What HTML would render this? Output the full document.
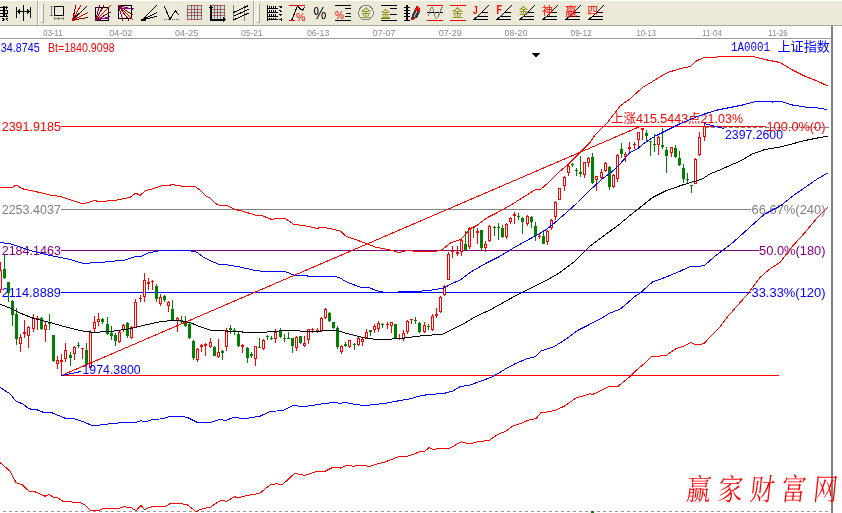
<!DOCTYPE html>
<html lang="zh"><head><meta charset="utf-8"><title>上证指数</title>
<style>
html,body{margin:0;padding:0;background:#fff;}
body{width:842px;height:513px;overflow:hidden;position:relative;font-family:"Liberation Sans","Noto Sans CJK SC",sans-serif;}
#tb{position:absolute;left:0;top:0;width:842px;height:25px;background:#ece9d8;border-top:1px solid #fff;box-sizing:border-box;}
#tbl{position:absolute;left:0;top:25px;width:842px;height:1px;background:#aca899;}
svg{position:absolute;left:0;top:0;}
.c{shape-rendering:crispEdges;}
text{font-family:"Liberation Sans","Noto Sans CJK SC",sans-serif;}
.d{font-size:9px;fill:#8a8a8a;}
.s{font-family:"Liberation Serif","Noto Serif CJK SC",serif;}
.m{font-family:"Liberation Mono",monospace;}
</style></head><body>
<div id="tb"></div><div id="tbl"></div>
<svg width="842" height="513" viewBox="0 0 842 513">
<g class="c"><rect x="37" y="1" width="1" height="24" fill="#aca899"/><rect x="38" y="1" width="1" height="24" fill="#fff"/><rect x="41" y="3" width="1" height="19" fill="#fff"/><rect x="42" y="3" width="1" height="19" fill="#ece9d8"/><rect x="43" y="4" width="1" height="19" fill="#aca899"/><rect x="41" y="22" width="3" height="1" fill="#aca899"/><rect x="253" y="1" width="1" height="24" fill="#aca899"/><rect x="254" y="1" width="1" height="24" fill="#fff"/><rect x="257" y="3" width="1" height="19" fill="#fff"/><rect x="258" y="3" width="1" height="19" fill="#ece9d8"/><rect x="259" y="4" width="1" height="19" fill="#aca899"/><rect x="257" y="22" width="3" height="1" fill="#aca899"/></g>
<g class="c"><g transform="translate(-8 5)"><rect x="8" y="2" width="8" height="1" fill="#000"/><rect x="8" y="5" width="8" height="1" fill="#000"/><rect x="8" y="8" width="8" height="1" fill="#000"/><rect x="8" y="11" width="8" height="1" fill="#000"/><rect x="11" y="1" width="1" height="11" fill="#000"/><rect x="12" y="1" width="1" height="11" fill="#000"/><rect x="14" y="1" width="1" height="3" fill="#000"/><rect x="15" y="6" width="1" height="2" fill="#000"/><rect x="14" y="9" width="1" height="2" fill="#000"/><rect x="10" y="13" width="2" height="1" fill="#000"/><rect x="11" y="14" width="2" height="1" fill="#000"/><rect x="10" y="15" width="2" height="1" fill="#000"/><rect x="14" y="13" width="2" height="1" fill="#000"/><rect x="14" y="14" width="1" height="1" fill="#000"/><rect x="15" y="15" width="1" height="1" fill="#000"/></g>
<g transform="translate(16 5)"><rect x="0" y="2" width="1" height="11" fill="#000"/><rect x="7" y="0" width="1" height="16" fill="#000"/><rect x="14" y="2" width="1" height="11" fill="#000"/><rect x="1" y="6" width="13" height="1" fill="#000"/><rect x="2" y="5" width="2" height="1" fill="#000"/><rect x="2" y="7" width="2" height="1" fill="#000"/><rect x="3" y="4" width="1" height="1" fill="#000"/><rect x="3" y="8" width="1" height="1" fill="#000"/><rect x="11" y="5" width="2" height="1" fill="#000"/><rect x="11" y="7" width="2" height="1" fill="#000"/><rect x="11" y="4" width="1" height="1" fill="#000"/><rect x="11" y="8" width="1" height="1" fill="#000"/></g>
<g transform="translate(49 5)"><rect x="5.5" y="1.5" width="9" height="9" fill="none" stroke="#000" stroke-width="1"/><rect x="2" y="1" width="1" height="10" fill="#808080"/><rect x="1" y="1" width="3" height="1" fill="#808080"/><rect x="1" y="10" width="3" height="1" fill="#808080"/><rect x="5" y="13" width="10" height="1" fill="#808080"/><rect x="5" y="12" width="1" height="3" fill="#808080"/><rect x="14" y="12" width="1" height="3" fill="#808080"/><rect x="9" y="12" width="1" height="3" fill="#808080"/></g>
<g transform="translate(72 5)"><line x1="0.5" y1="15" x2="4" y2="0" stroke="#800000" stroke-width="1"/><line x1="0.5" y1="15" x2="9" y2="0" stroke="#f00" stroke-width="1"/><line x1="0.5" y1="15" x2="15.5" y2="0.5" stroke="#000" stroke-width="1"/><line x1="0.5" y1="15" x2="16" y2="7.5" stroke="#f00" stroke-width="1"/><line x1="0.5" y1="15" x2="16" y2="12.5" stroke="#800000" stroke-width="1"/><rect x="0" y="13" width="3" height="3" fill="#c00000"/></g>
<g transform="translate(95 5)"><rect x="0.5" y="2.5" width="13" height="13" fill="none" stroke="#000" stroke-width="1"/><line x1="0.5" y1="15.5" x2="4.5" y2="0" stroke="#800080" stroke-width="1"/><line x1="0.5" y1="15.5" x2="9" y2="0" stroke="#800000" stroke-width="1"/><line x1="0.5" y1="15.5" x2="15.5" y2="0.5" stroke="#f00" stroke-width="1"/><line x1="0.5" y1="15.5" x2="15.5" y2="7" stroke="#800000" stroke-width="1"/><line x1="0.5" y1="15.5" x2="15.5" y2="11.5" stroke="#800080" stroke-width="1"/><line x1="4" y1="13" x2="14" y2="13" stroke="#800080" stroke-width="1"/></g>
<g transform="translate(118 5)"><rect x="0.5" y="0.5" width="13" height="13" fill="none" stroke="#000" stroke-width="1"/><line x1="0.5" y1="0.5" x2="5" y2="15.5" stroke="#800080" stroke-width="1"/><line x1="0.5" y1="0.5" x2="11" y2="15.5" stroke="#800000" stroke-width="1"/><line x1="0.5" y1="0.5" x2="15.5" y2="15.5" stroke="#f00" stroke-width="1"/><line x1="0.5" y1="0.5" x2="15.5" y2="10.5" stroke="#800000" stroke-width="1"/><line x1="0.5" y1="0.5" x2="15.5" y2="4.5" stroke="#800080" stroke-width="1"/><line x1="4" y1="3.5" x2="15.5" y2="3.5" stroke="#800080" stroke-width="1"/></g>
<g transform="translate(141 5)"><line x1="0.5" y1="15.2" x2="15.7" y2="0.6" stroke="#000" stroke-width="1"/><line x1="0.5" y1="15.2" x2="15.7" y2="7.5" stroke="#000" stroke-width="1"/><line x1="0.5" y1="15.2" x2="15.7" y2="11.2" stroke="#000" stroke-width="1"/><polygon points="0,15.5 5,12 5,15.5" fill="#000"/></g>
<g transform="translate(164 5)"><polyline fill="none" stroke="#000" stroke-width="1" points="0.3,1 5.8,14.3 11.4,5.6 14.8,10"/><line x1="0" y1="14.5" x2="16" y2="14.5" stroke="#555" stroke-width="1" stroke-dasharray="1 1"/></g>
<g transform="translate(187 5)"><rect x="0" y="0" width="15" height="15" fill="#dcdcdc"/><rect x="0" y="0" width="1" height="15" fill="#808080"/><rect x="0" y="0" width="15" height="1" fill="#808080"/><rect x="4" y="0" width="1" height="15" fill="#808080"/><rect x="0" y="4" width="15" height="1" fill="#808080"/><rect x="7" y="0" width="1" height="15" fill="#808080"/><rect x="0" y="7" width="15" height="1" fill="#808080"/><rect x="10" y="0" width="1" height="15" fill="#808080"/><rect x="0" y="10" width="15" height="1" fill="#808080"/><rect x="14" y="0" width="1" height="15" fill="#808080"/><rect x="0" y="14" width="15" height="1" fill="#808080"/><rect x="4" y="0" width="1" height="1" fill="#f00"/><rect x="7" y="0" width="1" height="1" fill="#f00"/><rect x="10" y="0" width="1" height="1" fill="#f00"/><rect x="14" y="0" width="1" height="1" fill="#f00"/><rect x="0" y="4" width="1" height="1" fill="#f00"/><rect x="7" y="4" width="1" height="1" fill="#f00"/><rect x="14" y="4" width="1" height="1" fill="#f00"/><rect x="4" y="7" width="1" height="1" fill="#f00"/><rect x="10" y="7" width="1" height="1" fill="#f00"/><rect x="0" y="7" width="1" height="1" fill="#f00"/><rect x="14" y="7" width="1" height="1" fill="#f00"/><rect x="0" y="10" width="1" height="1" fill="#f00"/><rect x="7" y="10" width="1" height="1" fill="#f00"/><rect x="14" y="10" width="1" height="1" fill="#f00"/><rect x="4" y="14" width="1" height="1" fill="#f00"/><rect x="7" y="14" width="1" height="1" fill="#f00"/><rect x="10" y="14" width="1" height="1" fill="#f00"/><rect x="0" y="14" width="1" height="1" fill="#f00"/><rect x="7" y="7" width="1" height="1" fill="#f00"/><rect x="4" y="4" width="1" height="1" fill="#f00"/><rect x="10" y="10" width="1" height="1" fill="#f00"/><rect x="4" y="10" width="1" height="1" fill="#f00"/><rect x="10" y="4" width="1" height="1" fill="#f00"/></g>
<g transform="translate(210 5)"><rect x="0" y="0" width="15" height="15" fill="#dcdcdc"/><rect x="0" y="0" width="1" height="15" fill="#808080"/><rect x="0" y="0" width="15" height="1" fill="#808080"/><rect x="4" y="0" width="1" height="15" fill="#808080"/><rect x="0" y="4" width="15" height="1" fill="#808080"/><rect x="7" y="0" width="1" height="15" fill="#808080"/><rect x="0" y="7" width="15" height="1" fill="#808080"/><rect x="10" y="0" width="1" height="15" fill="#808080"/><rect x="0" y="10" width="15" height="1" fill="#808080"/><rect x="14" y="0" width="1" height="15" fill="#808080"/><rect x="0" y="14" width="15" height="1" fill="#808080"/><rect x="4" y="0" width="1" height="1" fill="#f00"/><rect x="7" y="0" width="1" height="1" fill="#f00"/><rect x="10" y="0" width="1" height="1" fill="#f00"/><rect x="14" y="0" width="1" height="1" fill="#f00"/><rect x="0" y="4" width="1" height="1" fill="#f00"/><rect x="7" y="4" width="1" height="1" fill="#f00"/><rect x="14" y="4" width="1" height="1" fill="#f00"/><rect x="4" y="7" width="1" height="1" fill="#f00"/><rect x="10" y="7" width="1" height="1" fill="#f00"/><rect x="0" y="7" width="1" height="1" fill="#f00"/><rect x="14" y="7" width="1" height="1" fill="#f00"/><rect x="0" y="10" width="1" height="1" fill="#f00"/><rect x="7" y="10" width="1" height="1" fill="#f00"/><rect x="14" y="10" width="1" height="1" fill="#f00"/><rect x="4" y="14" width="1" height="1" fill="#f00"/><rect x="7" y="14" width="1" height="1" fill="#f00"/><rect x="10" y="14" width="1" height="1" fill="#f00"/><rect x="0" y="14" width="1" height="1" fill="#f00"/><rect x="7" y="7" width="1" height="1" fill="#f00"/><rect x="4" y="4" width="1" height="1" fill="#f00"/><rect x="10" y="10" width="1" height="1" fill="#f00"/><rect x="4" y="10" width="1" height="1" fill="#f00"/><rect x="10" y="4" width="1" height="1" fill="#f00"/><rect x="0" y="0" width="1" height="16" fill="#000"/><rect x="1" y="1" width="1" height="15" fill="#000"/><rect x="0" y="14" width="15" height="1" fill="#000"/><rect x="0" y="15" width="15" height="1" fill="#000"/><polygon points="-1,3 0.5,-0.5 3,3" fill="#000"/><polygon points="13,12 16.5,14.5 13,17" fill="#000"/></g>
<g transform="translate(233 5)"><rect x="0" y="0" width="1" height="16" fill="#808080"/><rect x="11" y="0" width="1" height="16" fill="#808080"/><line x1="0.5" y1="7.5" x2="15.5" y2="0.6" stroke="#000" stroke-width="1"/><line x1="0.5" y1="11.2" x2="15.5" y2="4.4" stroke="#000" stroke-width="1"/><line x1="0.5" y1="14.9" x2="15.5" y2="8.1" stroke="#000" stroke-width="1"/></g>
<g transform="translate(266 5)"><rect x="1" y="0" width="1" height="16" fill="#000"/><rect x="1" y="3" width="11" height="1" fill="#000"/><rect x="1" y="7" width="11" height="1" fill="#000"/><rect x="1" y="11" width="11" height="1" fill="#000"/><rect x="1" y="14" width="11" height="1" fill="#000"/><rect x="3" y="1" width="1" height="2" fill="#000"/><rect x="3" y="5" width="1" height="2" fill="#000"/><rect x="3" y="9" width="1" height="2" fill="#000"/><rect x="3" y="13" width="1" height="1" fill="#000"/><rect x="5" y="1" width="1" height="2" fill="#000"/><rect x="5" y="5" width="1" height="2" fill="#000"/><rect x="5" y="9" width="1" height="2" fill="#000"/><rect x="5" y="13" width="1" height="1" fill="#000"/><rect x="7" y="1" width="1" height="2" fill="#000"/><rect x="7" y="5" width="1" height="2" fill="#000"/><rect x="7" y="9" width="1" height="2" fill="#000"/><rect x="7" y="13" width="1" height="1" fill="#000"/><rect x="9" y="1" width="1" height="2" fill="#000"/><rect x="9" y="5" width="1" height="2" fill="#000"/><rect x="9" y="9" width="1" height="2" fill="#000"/><rect x="9" y="13" width="1" height="1" fill="#000"/><rect x="13" y="1" width="3" height="1" fill="#000"/><rect x="14" y="2" width="2" height="1" fill="#000"/><rect x="13" y="5" width="2" height="1" fill="#000"/><rect x="14" y="6" width="2" height="1" fill="#000"/><rect x="13" y="9" width="3" height="1" fill="#000"/><rect x="14" y="10" width="1" height="1" fill="#000"/><rect x="13" y="14" width="3" height="1" fill="#000"/><rect x="15" y="13" width="1" height="3" fill="#000"/></g>
<g transform="translate(289 5)"><rect x="0" y="0" width="16" height="1" fill="#f00"/><rect x="0" y="15" width="6" height="1" fill="#f00"/><polyline fill="none" stroke="#000" stroke-width="1" points="2.8,15 8.4,1 13.4,5.6 15.6,1.9"/><text x="7" y="15.5" font-size="11.5" fill="#f00" textLength="9.5" lengthAdjust="spacingAndGlyphs">%</text></g>
<g transform="translate(312 5)"><text x="1.5" y="14.3" font-size="17" fill="#000" textLength="13" lengthAdjust="spacingAndGlyphs">%</text></g>
<g transform="translate(335 5)"><rect x="0" y="0" width="16" height="1" fill="#000"/><rect x="0" y="15" width="16" height="1" fill="#000"/><rect x="10" y="3" width="6" height="1" fill="#000"/><rect x="11" y="8" width="5" height="1" fill="#000"/><rect x="10" y="11" width="6" height="1" fill="#000"/><text x="0" y="13.7" font-size="10.5" fill="#f00" textLength="9" lengthAdjust="spacingAndGlyphs">%</text></g>
<g transform="translate(358 5)"><circle cx="8" cy="7.7" r="7.4" fill="#f0eee0" stroke="#808080" stroke-width="1"/><text x="2.5" y="12" font-size="11" fill="#808000">金</text></g>
<g transform="translate(381 5)"><rect x="0" y="0" width="16" height="1" fill="#000"/><rect x="0" y="15" width="16" height="1" fill="#000"/><rect x="9" y="3" width="7" height="1" fill="#000"/><rect x="9" y="9" width="7" height="1" fill="#000"/><rect x="0" y="13" width="9" height="1" fill="#808000"/><text x="0" y="12" font-size="9.5" fill="#808000">金</text></g>
<g transform="translate(404 5)"><rect x="2" y="0" width="1" height="16" fill="#000"/><rect x="3" y="0" width="1" height="16" fill="#000"/><rect x="0" y="2" width="6" height="1" fill="#000"/><rect x="0" y="5" width="6" height="1" fill="#000"/><rect x="0" y="8" width="6" height="1" fill="#000"/><rect x="0" y="11" width="6" height="1" fill="#000"/><rect x="0" y="15" width="6" height="1" fill="#000"/><polygon points="6.7,15.3 8.3,9 11.3,3.5 16,6.8 13.3,12 9.2,14.8" fill="#3a3a3a"/><polygon points="10.8,4.2 12.3,0.8 15.6,2.6 16.2,7.6 13.5,6.2" fill="#f00"/><polygon points="6.5,15.6 7.4,12.2 10,14.6" fill="#f00"/><line x1="10" y1="11.5" x2="13" y2="6.5" stroke="#c8c8c8" stroke-width="1"/></g>
<g transform="translate(427 5)"><rect x="0" y="0" width="16" height="1" fill="#f00"/><rect x="0" y="15" width="16" height="1" fill="#f00"/><rect x="0" y="7" width="16" height="1" fill="#000"/><path d="M0.9,11.5 C2.5,9 3.2,2.5 4.9,2.5 C7,2.5 7.5,13.5 9.5,13.5 C11.5,13.5 13,5 15.3,2.2" fill="none" stroke="#808080" stroke-width="1"/></g>
<g transform="translate(450 5)"><rect x="0" y="0" width="16" height="1" fill="#f00"/><rect x="0" y="15" width="16" height="1" fill="#f00"/><text x="1.8" y="12.3" font-size="11.5" fill="#808000">金</text></g>
<g transform="translate(473 5)"><line x1="0.4" y1="15.2" x2="15.6" y2="0.6" stroke="#000" stroke-width="1"/><rect x="9" y="7" width="6" height="1" fill="#000"/><rect x="5" y="11" width="10" height="1" fill="#000"/><rect x="1" y="14" width="14" height="1" fill="#000"/><text x="0" y="8.7" font-size="11.5" font-weight="bold" fill="#f00" textLength="4.6" lengthAdjust="spacingAndGlyphs">J</text></g>
<g transform="translate(496 5)"><line x1="0.4" y1="15.2" x2="15.6" y2="0.6" stroke="#000" stroke-width="1"/><rect x="9" y="7" width="6" height="1" fill="#000"/><rect x="5" y="11" width="10" height="1" fill="#000"/><rect x="1" y="14" width="14" height="1" fill="#000"/><text x="0.6" y="9.3" font-size="12" font-weight="bold" fill="#f00" textLength="5.4" lengthAdjust="spacingAndGlyphs">F</text></g>
<g transform="translate(519 5)"><line x1="0.4" y1="15.2" x2="15.6" y2="0.6" stroke="#000" stroke-width="1"/><rect x="9" y="7" width="6" height="1" fill="#000"/><rect x="5" y="11" width="10" height="1" fill="#000"/><rect x="1" y="14" width="14" height="1" fill="#000"/><text x="0" y="9" font-size="9" fill="#808000">金</text></g>
<g transform="translate(542 5)"><line x1="0.4" y1="15.2" x2="15.6" y2="0.6" stroke="#000" stroke-width="1"/><rect x="9" y="7" width="6" height="1" fill="#000"/><rect x="5" y="11" width="10" height="1" fill="#000"/><rect x="1" y="14" width="14" height="1" fill="#000"/><text x="0" y="9.6" font-size="11" fill="#f00">神</text></g>
<g transform="translate(565 5)"><line x1="0.4" y1="15.2" x2="15.6" y2="0.6" stroke="#000" stroke-width="1"/><rect x="9" y="7" width="6" height="1" fill="#000"/><rect x="5" y="11" width="10" height="1" fill="#000"/><rect x="1" y="14" width="14" height="1" fill="#000"/><text x="0" y="10.6" font-size="12" fill="#f00">赢</text></g>
<g transform="translate(588 5)"><line x1="0.4" y1="15.2" x2="15.6" y2="0.6" stroke="#000" stroke-width="1"/><rect x="9" y="7" width="6" height="1" fill="#000"/><rect x="5" y="11" width="10" height="1" fill="#000"/><rect x="1" y="14" width="14" height="1" fill="#000"/><text x="-0.5" y="9.3" font-size="10.5" fill="#f00">四</text></g>
</g>
<g class="c"><rect x="0" y="38" width="832" height="1" fill="#9a9a9a"/><rect x="831" y="26" width="2" height="487" fill="#808080"/></g>
<text class="d" x="43.3" y="36" textLength="19.4" lengthAdjust="spacingAndGlyphs">03-11</text><text class="d" x="109.2" y="36" textLength="23.1" lengthAdjust="spacingAndGlyphs">04-02</text><text class="d" x="175.1" y="36" textLength="23.1" lengthAdjust="spacingAndGlyphs">04-25</text><text class="d" x="241.0" y="36" textLength="21.8" lengthAdjust="spacingAndGlyphs">05-21</text><text class="d" x="306.9" y="36" textLength="22.5" lengthAdjust="spacingAndGlyphs">06-13</text><text class="d" x="372.8" y="36" textLength="22.5" lengthAdjust="spacingAndGlyphs">07-07</text><text class="d" x="438.7" y="36" textLength="23.1" lengthAdjust="spacingAndGlyphs">07-29</text><text class="d" x="504.6" y="36" textLength="23.0" lengthAdjust="spacingAndGlyphs">08-20</text><text class="d" x="570.5" y="36" textLength="21.3" lengthAdjust="spacingAndGlyphs">09-12</text><text class="d" x="636.4" y="36" textLength="19.5" lengthAdjust="spacingAndGlyphs">10-13</text><text class="d" x="702.3" y="36" textLength="19.5" lengthAdjust="spacingAndGlyphs">11-04</text><text class="d" x="768.2" y="36" textLength="19.4" lengthAdjust="spacingAndGlyphs">11-26</text>
<g class="c"><rect x="61" y="126" width="705" height="1" fill="#f00"/><rect x="61" y="209" width="690" height="1" fill="#808080"/><rect x="61" y="250" width="698" height="1" fill="#800080"/><rect x="61" y="292" width="690" height="1" fill="#00f"/><rect x="61" y="375" width="718" height="1" fill="#f00"/></g>
<line x1="705" y1="127.5" x2="830" y2="127.5" stroke="#808080" stroke-width="1" stroke-dasharray="4 2" class="c"/>
<line x1="3" y1="511.5" x2="829" y2="511.5" stroke="#999" stroke-width="1" stroke-dasharray="3 3" class="c"/>
<rect x="591" y="511" width="3" height="2" fill="#008000" class="c"/>
<g class="c"><rect x="0" y="262" width="1" height="31" fill="#f00"/><rect x="-1" y="270" width="3" height="20" fill="#f00"/><rect x="0" y="271" width="1" height="18" fill="#fff"/><rect x="4" y="254" width="1" height="25" fill="#008000"/><rect x="3" y="269" width="3" height="9" fill="#008000"/><rect x="8" y="282" width="1" height="20" fill="#008000"/><rect x="7" y="282" width="3" height="11" fill="#008000"/><rect x="12" y="300" width="1" height="26" fill="#008000"/><rect x="11" y="301" width="3" height="14" fill="#008000"/><rect x="16" y="308" width="1" height="37" fill="#008000"/><rect x="15" y="314" width="3" height="25" fill="#008000"/><rect x="20" y="334" width="1" height="18" fill="#f00"/><rect x="19" y="337" width="3" height="7" fill="#f00"/><rect x="20" y="338" width="1" height="5" fill="#fff"/><rect x="24" y="320" width="1" height="18" fill="#f00"/><rect x="23" y="332" width="3" height="2" fill="#f00"/><rect x="28" y="326" width="1" height="22" fill="#f00"/><rect x="27" y="327" width="3" height="9" fill="#f00"/><rect x="28" y="328" width="1" height="7" fill="#fff"/><rect x="33" y="314" width="1" height="18" fill="#f00"/><rect x="32" y="318" width="3" height="11" fill="#f00"/><rect x="33" y="319" width="1" height="9" fill="#fff"/><rect x="37" y="316" width="1" height="14" fill="#f00"/><rect x="36" y="318" width="3" height="1" fill="#f00"/><rect x="41" y="317" width="1" height="13" fill="#008000"/><rect x="40" y="318" width="3" height="11" fill="#008000"/><rect x="45" y="322" width="1" height="20" fill="#f00"/><rect x="44" y="325" width="3" height="5" fill="#f00"/><rect x="45" y="326" width="1" height="3" fill="#fff"/><rect x="49" y="314" width="1" height="16" fill="#008000"/><rect x="48" y="322" width="3" height="2" fill="#008000"/><rect x="53" y="335" width="1" height="27" fill="#008000"/><rect x="52" y="335" width="3" height="26" fill="#008000"/><rect x="57" y="356" width="1" height="13" fill="#f00"/><rect x="56" y="360" width="3" height="4" fill="#f00"/><rect x="57" y="361" width="1" height="2" fill="#fff"/><rect x="61" y="354" width="1" height="22" fill="#f00"/><rect x="60" y="360" width="3" height="2" fill="#f00"/><rect x="65" y="343" width="1" height="19" fill="#f00"/><rect x="64" y="350" width="3" height="9" fill="#f00"/><rect x="65" y="351" width="1" height="7" fill="#fff"/><rect x="70" y="352" width="1" height="14" fill="#008000"/><rect x="69" y="355" width="3" height="3" fill="#008000"/><rect x="74" y="346" width="1" height="14" fill="#f00"/><rect x="73" y="347" width="3" height="7" fill="#f00"/><rect x="74" y="348" width="1" height="5" fill="#fff"/><rect x="78" y="342" width="1" height="6" fill="#008000"/><rect x="77" y="345" width="3" height="1" fill="#008000"/><rect x="82" y="348" width="1" height="11" fill="#f00"/><rect x="81" y="348" width="3" height="1" fill="#f00"/><rect x="86" y="343" width="1" height="23" fill="#008000"/><rect x="85" y="350" width="3" height="15" fill="#008000"/><rect x="90" y="330" width="1" height="39" fill="#f00"/><rect x="89" y="332" width="3" height="36" fill="#f00"/><rect x="90" y="333" width="1" height="34" fill="#fff"/><rect x="94" y="316" width="1" height="17" fill="#f00"/><rect x="93" y="322" width="3" height="7" fill="#f00"/><rect x="94" y="323" width="1" height="5" fill="#fff"/><rect x="98" y="313" width="1" height="13" fill="#f00"/><rect x="97" y="319" width="3" height="3" fill="#f00"/><rect x="98" y="320" width="1" height="1" fill="#fff"/><rect x="102" y="318" width="1" height="6" fill="#008000"/><rect x="101" y="319" width="3" height="3" fill="#008000"/><rect x="107" y="317" width="1" height="18" fill="#008000"/><rect x="106" y="324" width="3" height="10" fill="#008000"/><rect x="111" y="326" width="1" height="14" fill="#008000"/><rect x="110" y="333" width="3" height="3" fill="#008000"/><rect x="115" y="333" width="1" height="13" fill="#008000"/><rect x="114" y="335" width="3" height="6" fill="#008000"/><rect x="119" y="331" width="1" height="12" fill="#f00"/><rect x="118" y="332" width="3" height="10" fill="#f00"/><rect x="119" y="333" width="1" height="8" fill="#fff"/><rect x="123" y="324" width="1" height="8" fill="#f00"/><rect x="122" y="325" width="3" height="5" fill="#f00"/><rect x="123" y="326" width="1" height="3" fill="#fff"/><rect x="127" y="322" width="1" height="16" fill="#008000"/><rect x="126" y="323" width="3" height="13" fill="#008000"/><rect x="131" y="326" width="1" height="13" fill="#f00"/><rect x="130" y="327" width="3" height="11" fill="#f00"/><rect x="131" y="328" width="1" height="9" fill="#fff"/><rect x="135" y="299" width="1" height="29" fill="#f00"/><rect x="134" y="302" width="3" height="26" fill="#f00"/><rect x="135" y="303" width="1" height="24" fill="#fff"/><rect x="140" y="295" width="1" height="7" fill="#f00"/><rect x="139" y="298" width="3" height="1" fill="#f00"/><rect x="144" y="273" width="1" height="29" fill="#f00"/><rect x="143" y="280" width="3" height="17" fill="#f00"/><rect x="144" y="281" width="1" height="15" fill="#fff"/><rect x="148" y="278" width="1" height="12" fill="#f00"/><rect x="147" y="282" width="3" height="2" fill="#f00"/><rect x="152" y="280" width="1" height="10" fill="#f00"/><rect x="151" y="281" width="3" height="1" fill="#f00"/><rect x="156" y="284" width="1" height="18" fill="#008000"/><rect x="155" y="286" width="3" height="13" fill="#008000"/><rect x="160" y="294" width="1" height="12" fill="#f00"/><rect x="159" y="297" width="3" height="7" fill="#f00"/><rect x="160" y="298" width="1" height="5" fill="#fff"/><rect x="164" y="295" width="1" height="7" fill="#008000"/><rect x="163" y="296" width="3" height="4" fill="#008000"/><rect x="168" y="301" width="1" height="11" fill="#f00"/><rect x="167" y="302" width="3" height="4" fill="#f00"/><rect x="168" y="303" width="1" height="2" fill="#fff"/><rect x="172" y="300" width="1" height="20" fill="#008000"/><rect x="171" y="309" width="3" height="11" fill="#008000"/><rect x="177" y="317" width="1" height="15" fill="#f00"/><rect x="176" y="318" width="3" height="3" fill="#f00"/><rect x="177" y="319" width="1" height="1" fill="#fff"/><rect x="181" y="316" width="1" height="8" fill="#008000"/><rect x="180" y="320" width="3" height="2" fill="#008000"/><rect x="185" y="316" width="1" height="11" fill="#008000"/><rect x="184" y="321" width="3" height="5" fill="#008000"/><rect x="189" y="322" width="1" height="17" fill="#008000"/><rect x="188" y="324" width="3" height="14" fill="#008000"/><rect x="193" y="340" width="1" height="20" fill="#008000"/><rect x="192" y="341" width="3" height="17" fill="#008000"/><rect x="197" y="348" width="1" height="14" fill="#f00"/><rect x="196" y="349" width="3" height="11" fill="#f00"/><rect x="197" y="350" width="1" height="9" fill="#fff"/><rect x="201" y="344" width="1" height="8" fill="#f00"/><rect x="200" y="345" width="3" height="2" fill="#f00"/><rect x="205" y="343" width="1" height="13" fill="#f00"/><rect x="204" y="344" width="3" height="2" fill="#f00"/><rect x="210" y="338" width="1" height="10" fill="#f00"/><rect x="209" y="342" width="3" height="5" fill="#f00"/><rect x="210" y="343" width="1" height="3" fill="#fff"/><rect x="214" y="346" width="1" height="10" fill="#008000"/><rect x="213" y="347" width="3" height="9" fill="#008000"/><rect x="218" y="339" width="1" height="19" fill="#f00"/><rect x="217" y="352" width="3" height="5" fill="#f00"/><rect x="218" y="353" width="1" height="3" fill="#fff"/><rect x="222" y="350" width="1" height="10" fill="#008000"/><rect x="221" y="351" width="3" height="2" fill="#008000"/><rect x="226" y="328" width="1" height="23" fill="#f00"/><rect x="225" y="330" width="3" height="17" fill="#f00"/><rect x="226" y="331" width="1" height="15" fill="#fff"/><rect x="230" y="325" width="1" height="9" fill="#008000"/><rect x="229" y="328" width="3" height="2" fill="#008000"/><rect x="234" y="328" width="1" height="7" fill="#008000"/><rect x="233" y="330" width="3" height="2" fill="#008000"/><rect x="238" y="332" width="1" height="15" fill="#008000"/><rect x="237" y="334" width="3" height="12" fill="#008000"/><rect x="242" y="344" width="1" height="9" fill="#f00"/><rect x="241" y="345" width="3" height="2" fill="#f00"/><rect x="247" y="347" width="1" height="16" fill="#008000"/><rect x="246" y="348" width="3" height="10" fill="#008000"/><rect x="251" y="352" width="1" height="6" fill="#008000"/><rect x="250" y="354" width="3" height="2" fill="#008000"/><rect x="255" y="346" width="1" height="20" fill="#f00"/><rect x="254" y="346" width="3" height="13" fill="#f00"/><rect x="255" y="347" width="1" height="11" fill="#fff"/><rect x="259" y="338" width="1" height="10" fill="#008000"/><rect x="258" y="347" width="3" height="1" fill="#008000"/><rect x="263" y="339" width="1" height="11" fill="#f00"/><rect x="262" y="340" width="3" height="9" fill="#f00"/><rect x="263" y="341" width="1" height="7" fill="#fff"/><rect x="267" y="335" width="1" height="5" fill="#008000"/><rect x="266" y="336" width="3" height="1" fill="#008000"/><rect x="271" y="336" width="1" height="4" fill="#008000"/><rect x="270" y="338" width="3" height="1" fill="#008000"/><rect x="275" y="329" width="1" height="14" fill="#f00"/><rect x="274" y="332" width="3" height="7" fill="#f00"/><rect x="275" y="333" width="1" height="5" fill="#fff"/><rect x="280" y="328" width="1" height="10" fill="#008000"/><rect x="279" y="330" width="3" height="7" fill="#008000"/><rect x="284" y="334" width="1" height="8" fill="#008000"/><rect x="283" y="338" width="3" height="1" fill="#008000"/><rect x="288" y="332" width="1" height="6" fill="#008000"/><rect x="287" y="338" width="3" height="1" fill="#008000"/><rect x="292" y="338" width="1" height="15" fill="#008000"/><rect x="291" y="338" width="3" height="8" fill="#008000"/><rect x="296" y="336" width="1" height="15" fill="#f00"/><rect x="295" y="337" width="3" height="11" fill="#f00"/><rect x="296" y="338" width="1" height="9" fill="#fff"/><rect x="300" y="336" width="1" height="8" fill="#008000"/><rect x="299" y="336" width="3" height="7" fill="#008000"/><rect x="304" y="336" width="1" height="11" fill="#f00"/><rect x="303" y="343" width="3" height="3" fill="#f00"/><rect x="304" y="344" width="1" height="1" fill="#fff"/><rect x="308" y="329" width="1" height="15" fill="#f00"/><rect x="307" y="329" width="3" height="11" fill="#f00"/><rect x="308" y="330" width="1" height="9" fill="#fff"/><rect x="312" y="328" width="1" height="5" fill="#f00"/><rect x="311" y="329" width="3" height="1" fill="#f00"/><rect x="317" y="328" width="1" height="5" fill="#f00"/><rect x="316" y="330" width="3" height="2" fill="#f00"/><rect x="321" y="317" width="1" height="15" fill="#f00"/><rect x="320" y="318" width="3" height="13" fill="#f00"/><rect x="321" y="319" width="1" height="11" fill="#fff"/><rect x="325" y="308" width="1" height="11" fill="#f00"/><rect x="324" y="309" width="3" height="9" fill="#f00"/><rect x="325" y="310" width="1" height="7" fill="#fff"/><rect x="329" y="312" width="1" height="10" fill="#008000"/><rect x="328" y="313" width="3" height="8" fill="#008000"/><rect x="333" y="322" width="1" height="7" fill="#008000"/><rect x="332" y="322" width="3" height="6" fill="#008000"/><rect x="337" y="326" width="1" height="23" fill="#008000"/><rect x="336" y="328" width="3" height="19" fill="#008000"/><rect x="341" y="345" width="1" height="9" fill="#f00"/><rect x="340" y="346" width="3" height="6" fill="#f00"/><rect x="341" y="347" width="1" height="4" fill="#fff"/><rect x="345" y="342" width="1" height="5" fill="#008000"/><rect x="344" y="344" width="3" height="2" fill="#008000"/><rect x="349" y="340" width="1" height="8" fill="#f00"/><rect x="348" y="340" width="3" height="7" fill="#f00"/><rect x="349" y="341" width="1" height="5" fill="#fff"/><rect x="354" y="343" width="1" height="7" fill="#008000"/><rect x="353" y="344" width="3" height="1" fill="#008000"/><rect x="358" y="337" width="1" height="9" fill="#f00"/><rect x="357" y="338" width="3" height="7" fill="#f00"/><rect x="358" y="339" width="1" height="5" fill="#fff"/><rect x="362" y="337" width="1" height="9" fill="#f00"/><rect x="361" y="339" width="3" height="3" fill="#f00"/><rect x="362" y="340" width="1" height="1" fill="#fff"/><rect x="366" y="329" width="1" height="10" fill="#f00"/><rect x="365" y="332" width="3" height="6" fill="#f00"/><rect x="366" y="333" width="1" height="4" fill="#fff"/><rect x="370" y="330" width="1" height="6" fill="#008000"/><rect x="369" y="330" width="3" height="2" fill="#008000"/><rect x="374" y="324" width="1" height="9" fill="#f00"/><rect x="373" y="326" width="3" height="4" fill="#f00"/><rect x="374" y="327" width="1" height="2" fill="#fff"/><rect x="378" y="321" width="1" height="11" fill="#f00"/><rect x="377" y="323" width="3" height="6" fill="#f00"/><rect x="378" y="324" width="1" height="4" fill="#fff"/><rect x="382" y="323" width="1" height="5" fill="#008000"/><rect x="381" y="324" width="3" height="1" fill="#008000"/><rect x="387" y="322" width="1" height="7" fill="#f00"/><rect x="386" y="324" width="3" height="1" fill="#f00"/><rect x="391" y="322" width="1" height="11" fill="#f00"/><rect x="390" y="322" width="3" height="4" fill="#f00"/><rect x="391" y="323" width="1" height="2" fill="#fff"/><rect x="395" y="324" width="1" height="15" fill="#008000"/><rect x="394" y="324" width="3" height="14" fill="#008000"/><rect x="399" y="334" width="1" height="6" fill="#f00"/><rect x="398" y="338" width="3" height="1" fill="#f00"/><rect x="403" y="330" width="1" height="11" fill="#f00"/><rect x="402" y="333" width="3" height="6" fill="#f00"/><rect x="403" y="334" width="1" height="4" fill="#fff"/><rect x="407" y="320" width="1" height="14" fill="#f00"/><rect x="406" y="321" width="3" height="11" fill="#f00"/><rect x="407" y="322" width="1" height="9" fill="#fff"/><rect x="411" y="319" width="1" height="5" fill="#f00"/><rect x="410" y="319" width="3" height="1" fill="#f00"/><rect x="415" y="317" width="1" height="7" fill="#008000"/><rect x="414" y="320" width="3" height="1" fill="#008000"/><rect x="419" y="322" width="1" height="11" fill="#008000"/><rect x="418" y="323" width="3" height="9" fill="#008000"/><rect x="424" y="322" width="1" height="11" fill="#f00"/><rect x="423" y="325" width="3" height="7" fill="#f00"/><rect x="424" y="326" width="1" height="5" fill="#fff"/><rect x="428" y="324" width="1" height="6" fill="#008000"/><rect x="427" y="326" width="3" height="1" fill="#008000"/><rect x="432" y="314" width="1" height="17" fill="#f00"/><rect x="431" y="316" width="3" height="14" fill="#f00"/><rect x="432" y="317" width="1" height="12" fill="#fff"/><rect x="436" y="308" width="1" height="10" fill="#f00"/><rect x="435" y="314" width="3" height="2" fill="#f00"/><rect x="440" y="296" width="1" height="17" fill="#f00"/><rect x="439" y="297" width="3" height="15" fill="#f00"/><rect x="440" y="298" width="1" height="13" fill="#fff"/><rect x="444" y="285" width="1" height="11" fill="#f00"/><rect x="443" y="286" width="3" height="9" fill="#f00"/><rect x="444" y="287" width="1" height="7" fill="#fff"/><rect x="448" y="252" width="1" height="28" fill="#f00"/><rect x="447" y="254" width="3" height="26" fill="#f00"/><rect x="448" y="255" width="1" height="24" fill="#fff"/><rect x="452" y="246" width="1" height="12" fill="#f00"/><rect x="451" y="250" width="3" height="2" fill="#f00"/><rect x="457" y="246" width="1" height="10" fill="#f00"/><rect x="456" y="252" width="3" height="2" fill="#f00"/><rect x="461" y="238" width="1" height="18" fill="#f00"/><rect x="460" y="240" width="3" height="12" fill="#f00"/><rect x="461" y="241" width="1" height="10" fill="#fff"/><rect x="465" y="231" width="1" height="19" fill="#008000"/><rect x="464" y="244" width="3" height="6" fill="#008000"/><rect x="469" y="227" width="1" height="22" fill="#f00"/><rect x="468" y="228" width="3" height="19" fill="#f00"/><rect x="469" y="229" width="1" height="17" fill="#fff"/><rect x="473" y="226" width="1" height="12" fill="#008000"/><rect x="472" y="227" width="3" height="1" fill="#008000"/><rect x="477" y="228" width="1" height="16" fill="#f00"/><rect x="476" y="231" width="3" height="2" fill="#f00"/><rect x="481" y="230" width="1" height="20" fill="#008000"/><rect x="480" y="230" width="3" height="18" fill="#008000"/><rect x="485" y="241" width="1" height="11" fill="#f00"/><rect x="484" y="244" width="3" height="4" fill="#f00"/><rect x="485" y="245" width="1" height="2" fill="#fff"/><rect x="489" y="225" width="1" height="17" fill="#f00"/><rect x="488" y="226" width="3" height="15" fill="#f00"/><rect x="489" y="227" width="1" height="13" fill="#fff"/><rect x="494" y="226" width="1" height="10" fill="#008000"/><rect x="493" y="227" width="3" height="1" fill="#008000"/><rect x="498" y="223" width="1" height="17" fill="#008000"/><rect x="497" y="227" width="3" height="1" fill="#008000"/><rect x="502" y="225" width="1" height="13" fill="#008000"/><rect x="501" y="228" width="3" height="9" fill="#008000"/><rect x="506" y="223" width="1" height="16" fill="#f00"/><rect x="505" y="224" width="3" height="13" fill="#f00"/><rect x="506" y="225" width="1" height="11" fill="#fff"/><rect x="510" y="217" width="1" height="7" fill="#f00"/><rect x="509" y="218" width="3" height="4" fill="#f00"/><rect x="510" y="219" width="1" height="2" fill="#fff"/><rect x="514" y="212" width="1" height="12" fill="#f00"/><rect x="513" y="214" width="3" height="2" fill="#f00"/><rect x="518" y="213" width="1" height="7" fill="#008000"/><rect x="517" y="216" width="3" height="1" fill="#008000"/><rect x="522" y="217" width="1" height="17" fill="#008000"/><rect x="521" y="218" width="3" height="4" fill="#008000"/><rect x="527" y="215" width="1" height="11" fill="#f00"/><rect x="526" y="216" width="3" height="8" fill="#f00"/><rect x="527" y="217" width="1" height="6" fill="#fff"/><rect x="531" y="216" width="1" height="12" fill="#008000"/><rect x="530" y="217" width="3" height="5" fill="#008000"/><rect x="535" y="222" width="1" height="19" fill="#008000"/><rect x="534" y="226" width="3" height="10" fill="#008000"/><rect x="539" y="234" width="1" height="5" fill="#f00"/><rect x="538" y="236" width="3" height="1" fill="#f00"/><rect x="543" y="230" width="1" height="14" fill="#008000"/><rect x="542" y="236" width="3" height="8" fill="#008000"/><rect x="547" y="230" width="1" height="15" fill="#f00"/><rect x="546" y="231" width="3" height="11" fill="#f00"/><rect x="547" y="232" width="1" height="9" fill="#fff"/><rect x="551" y="219" width="1" height="11" fill="#f00"/><rect x="550" y="220" width="3" height="8" fill="#f00"/><rect x="551" y="221" width="1" height="6" fill="#fff"/><rect x="555" y="201" width="1" height="19" fill="#f00"/><rect x="554" y="202" width="3" height="15" fill="#f00"/><rect x="555" y="203" width="1" height="13" fill="#fff"/><rect x="559" y="188" width="1" height="12" fill="#f00"/><rect x="558" y="188" width="3" height="12" fill="#f00"/><rect x="559" y="189" width="1" height="10" fill="#fff"/><rect x="564" y="176" width="1" height="15" fill="#f00"/><rect x="563" y="177" width="3" height="9" fill="#f00"/><rect x="564" y="178" width="1" height="7" fill="#fff"/><rect x="568" y="164" width="1" height="12" fill="#f00"/><rect x="567" y="166" width="3" height="7" fill="#f00"/><rect x="568" y="167" width="1" height="5" fill="#fff"/><rect x="572" y="163" width="1" height="4" fill="#008000"/><rect x="571" y="164" width="3" height="1" fill="#008000"/><rect x="576" y="168" width="1" height="8" fill="#008000"/><rect x="575" y="170" width="3" height="1" fill="#008000"/><rect x="580" y="156" width="1" height="21" fill="#008000"/><rect x="579" y="172" width="3" height="2" fill="#008000"/><rect x="584" y="162" width="1" height="16" fill="#f00"/><rect x="583" y="162" width="3" height="13" fill="#f00"/><rect x="584" y="163" width="1" height="11" fill="#fff"/><rect x="588" y="157" width="1" height="10" fill="#f00"/><rect x="587" y="158" width="3" height="5" fill="#f00"/><rect x="588" y="159" width="1" height="3" fill="#fff"/><rect x="592" y="153" width="1" height="31" fill="#008000"/><rect x="591" y="157" width="3" height="26" fill="#008000"/><rect x="596" y="176" width="1" height="15" fill="#f00"/><rect x="595" y="176" width="3" height="4" fill="#f00"/><rect x="596" y="177" width="1" height="2" fill="#fff"/><rect x="601" y="169" width="1" height="10" fill="#f00"/><rect x="600" y="172" width="3" height="6" fill="#f00"/><rect x="601" y="173" width="1" height="4" fill="#fff"/><rect x="605" y="162" width="1" height="10" fill="#f00"/><rect x="604" y="163" width="3" height="8" fill="#f00"/><rect x="605" y="164" width="1" height="6" fill="#fff"/><rect x="609" y="166" width="1" height="24" fill="#008000"/><rect x="608" y="167" width="3" height="20" fill="#008000"/><rect x="613" y="174" width="1" height="14" fill="#f00"/><rect x="612" y="175" width="3" height="12" fill="#f00"/><rect x="613" y="176" width="1" height="10" fill="#fff"/><rect x="617" y="154" width="1" height="28" fill="#f00"/><rect x="616" y="155" width="3" height="24" fill="#f00"/><rect x="617" y="156" width="1" height="22" fill="#fff"/><rect x="621" y="143" width="1" height="15" fill="#008000"/><rect x="620" y="149" width="3" height="5" fill="#008000"/><rect x="625" y="152" width="1" height="10" fill="#f00"/><rect x="624" y="154" width="3" height="3" fill="#f00"/><rect x="625" y="155" width="1" height="1" fill="#fff"/><rect x="629" y="142" width="1" height="11" fill="#f00"/><rect x="628" y="147" width="3" height="2" fill="#f00"/><rect x="634" y="142" width="1" height="7" fill="#f00"/><rect x="633" y="144" width="3" height="1" fill="#f00"/><rect x="638" y="132" width="1" height="17" fill="#f00"/><rect x="637" y="132" width="3" height="8" fill="#f00"/><rect x="638" y="133" width="1" height="6" fill="#fff"/><rect x="642" y="128" width="1" height="12" fill="#f00"/><rect x="641" y="128" width="3" height="2" fill="#f00"/><rect x="646" y="130" width="1" height="11" fill="#008000"/><rect x="645" y="133" width="3" height="3" fill="#008000"/><rect x="650" y="141" width="1" height="15" fill="#008000"/><rect x="649" y="141" width="3" height="1" fill="#008000"/><rect x="654" y="134" width="1" height="18" fill="#008000"/><rect x="653" y="144" width="3" height="1" fill="#008000"/><rect x="658" y="136" width="1" height="19" fill="#f00"/><rect x="657" y="137" width="3" height="8" fill="#f00"/><rect x="658" y="138" width="1" height="6" fill="#fff"/><rect x="662" y="128" width="1" height="21" fill="#008000"/><rect x="661" y="145" width="3" height="2" fill="#008000"/><rect x="666" y="147" width="1" height="26" fill="#008000"/><rect x="665" y="150" width="3" height="6" fill="#008000"/><rect x="671" y="147" width="1" height="10" fill="#f00"/><rect x="670" y="147" width="3" height="6" fill="#f00"/><rect x="671" y="148" width="1" height="4" fill="#fff"/><rect x="675" y="145" width="1" height="13" fill="#008000"/><rect x="674" y="148" width="3" height="9" fill="#008000"/><rect x="679" y="151" width="1" height="15" fill="#008000"/><rect x="678" y="158" width="3" height="7" fill="#008000"/><rect x="683" y="164" width="1" height="19" fill="#008000"/><rect x="682" y="168" width="3" height="11" fill="#008000"/><rect x="687" y="173" width="1" height="10" fill="#008000"/><rect x="686" y="179" width="3" height="1" fill="#008000"/><rect x="691" y="185" width="1" height="8" fill="#008000"/><rect x="690" y="185" width="3" height="1" fill="#008000"/><rect x="695" y="158" width="1" height="26" fill="#f00"/><rect x="694" y="159" width="3" height="25" fill="#f00"/><rect x="695" y="160" width="1" height="23" fill="#fff"/><rect x="699" y="132" width="1" height="24" fill="#f00"/><rect x="698" y="137" width="3" height="18" fill="#f00"/><rect x="699" y="138" width="1" height="16" fill="#fff"/><rect x="704" y="124" width="1" height="17" fill="#f00"/><rect x="703" y="126" width="3" height="11" fill="#f00"/><rect x="704" y="127" width="1" height="9" fill="#fff"/></g>
<polygon points="532,53 540,53 536,57.5" fill="#000" class="c"/>
<text x="0.8" y="52" font-size="12.5" fill="#00f" textLength="38.8" lengthAdjust="spacingAndGlyphs">34.8745</text>
<text x="47.9" y="52" font-size="12.5" fill="#f00" textLength="66.7" lengthAdjust="spacingAndGlyphs">Bt=1840.9098</text>
<text x="1.7" y="131" font-size="12.3" fill="#f00" textLength="59.2" lengthAdjust="spacingAndGlyphs">2391.9185</text>
<text x="1.7" y="214" font-size="12.3" fill="#808080" textLength="59.2" lengthAdjust="spacingAndGlyphs">2253.4037</text>
<text x="1.7" y="255" font-size="12.3" fill="#800080" textLength="59.2" lengthAdjust="spacingAndGlyphs">2184.1463</text>
<text x="1.7" y="297" font-size="12.3" fill="#00f" textLength="59.2" lengthAdjust="spacingAndGlyphs">2114.8889</text>
<text x="82.5" y="374.3" font-size="12.3" fill="#00f" textLength="58.2" lengthAdjust="spacingAndGlyphs">1974.3800</text>
<text x="725" y="139.3" font-size="12.3" fill="#00f" textLength="58.0" lengthAdjust="spacingAndGlyphs">2397.2600</text>
<text x="766.5" y="131.3" font-size="12.3" fill="#f00" textLength="59.0" lengthAdjust="spacingAndGlyphs">100.0%(0)</text>
<text x="751.5" y="214.3" font-size="12.3" fill="#808080" textLength="74.0" lengthAdjust="spacingAndGlyphs">66.67%(240)</text>
<text x="759" y="255.3" font-size="12.3" fill="#800080" textLength="66.5" lengthAdjust="spacingAndGlyphs">50.0%(180)</text>
<text x="751.5" y="297.3" font-size="12.3" fill="#00f" textLength="74.0" lengthAdjust="spacingAndGlyphs">33.33%(120)</text>
<text x="611" y="122.5" font-size="12.3" fill="#f00" textLength="132.0" lengthAdjust="spacingAndGlyphs">上涨415.5443点21.03%</text>
<text class="m" x="731" y="51" font-size="13" fill="#00f" textLength="39.0" lengthAdjust="spacingAndGlyphs">1A0001</text>
<text x="777.5" y="51" font-size="13" fill="#00f" textLength="52.5" lengthAdjust="spacingAndGlyphs">上证指数</text>
<polyline class="c" fill="none" stroke="#f00" stroke-width="1" points="0.0,188.0 12.5,187.5 16.0,185.0 22.5,188.8 37.5,192.0 50.0,195.0 60.0,196.5 67.5,198.8 80.0,203.0 86.0,203.0 94.0,200.8 102.5,201.5 117.5,200.0 130.0,197.5 136.0,193.0 140.0,195.5 145.0,191.0 155.0,188.0 164.0,185.0 167.5,185.8 172.5,184.5 185.0,186.8 196.0,187.0 200.0,190.0 206.0,196.0 210.0,198.2 216.0,203.8 221.0,205.8 226.0,205.0 234.0,209.2 242.5,211.2 255.0,215.0 262.5,215.8 271.0,219.2 285.0,218.2 294.0,224.5 304.0,225.5 316.0,228.2 325.0,227.5 340.0,230.8 346.0,236.2 360.0,241.2 367.5,243.8 375.0,247.0 390.0,250.0 399.0,252.5 406.0,250.8 420.0,251.2 430.0,252.0 441.0,250.5 451.0,242.5 461.0,239.5 470.0,228.8 477.5,225.0 487.5,217.5 500.0,211.2 515.0,202.5 530.0,193.0 536.0,189.2 540.0,190.0 550.0,181.2 560.0,171.2 567.5,165.0 580.0,152.5 590.0,142.5 595.0,135.0 607.5,122.5 620.0,106.2 630.0,98.8 642.5,87.5 655.0,80.0 667.5,72.5 680.0,68.8 691.0,66.2 696.0,61.2 704.0,57.5 717.5,57.0 730.0,56.2 742.5,56.2 755.0,57.0 767.5,60.0 780.0,62.5 792.5,70.0 805.0,76.2 817.5,81.2 827.5,85.8"/>
<polyline class="c" fill="none" stroke="#f00" stroke-width="1" points="0.0,462.5 10.0,471.2 16.0,482.5 22.5,485.0 29.0,491.2 35.0,491.8 45.0,496.2 49.0,494.5 54.0,497.5 57.5,497.5 64.0,502.0 70.0,501.2 75.0,503.0 80.0,502.5 85.0,505.0 91.0,510.8 99.0,510.8 102.5,508.8 112.5,508.2 119.0,508.2 124.0,506.8 131.0,507.5 136.0,510.8 141.0,505.5 144.5,509.5 151.0,507.0 165.0,506.5 170.0,503.8 179.0,503.2 187.5,505.0 192.5,508.8 196.0,512.0 199.0,510.0 205.0,508.2 210.0,507.5 219.0,501.2 224.0,500.5 226.0,501.8 234.0,496.8 239.0,497.5 247.5,495.5 260.0,493.2 270.0,485.0 276.0,483.8 282.5,484.5 287.5,480.0 294.0,473.8 297.5,473.8 305.0,475.5 315.0,472.0 325.0,471.2 332.5,467.5 339.0,467.5 341.0,468.2 346.0,465.5 354.0,466.2 359.0,465.5 370.0,466.2 377.5,463.8 385.0,462.0 400.0,456.2 407.5,456.2 420.0,451.8 425.0,451.2 429.0,447.5 432.5,449.2 450.0,448.2 461.0,441.8 470.0,443.8 477.5,441.8 489.0,440.5 497.5,434.5 506.0,431.2 512.5,426.2 520.0,423.8 530.0,419.5 536.0,418.8 541.0,412.5 547.5,412.0 556.0,410.0 565.0,405.8 576.0,398.0 590.0,393.8 592.5,394.5 600.0,391.2 610.0,386.2 617.5,386.8 630.0,376.5 637.5,369.2 645.0,363.0 651.0,356.8 666.0,355.5 675.0,349.2 685.0,345.5 691.0,342.5 696.0,344.8 704.0,343.8 710.0,336.8 720.0,326.8 727.5,316.8 737.5,305.5 747.5,294.2 760.0,277.5 770.0,268.8 780.0,262.5 792.5,246.2 805.0,232.5 817.5,217.5 827.5,207.5"/>
<polyline class="c" fill="none" stroke="#00f" stroke-width="1" points="0.0,242.5 10.0,243.8 20.0,247.0 32.5,251.2 50.0,255.5 67.5,258.8 82.5,263.2 87.5,263.2 105.0,262.0 125.0,260.0 136.0,256.2 140.0,257.0 147.5,253.2 162.5,250.0 184.0,250.0 196.0,251.8 205.0,258.2 210.0,260.5 219.0,264.5 227.5,265.0 240.0,267.0 255.0,270.5 267.5,271.8 286.0,272.0 294.0,275.0 310.0,276.2 335.0,276.5 340.0,278.0 347.5,282.5 360.0,287.0 370.0,288.0 376.0,290.5 385.0,292.5 420.0,291.2 432.5,290.0 444.0,288.0 450.0,284.5 461.0,279.5 470.0,272.5 485.0,263.8 500.0,256.2 515.0,247.0 530.0,238.8 545.0,230.5 555.0,222.5 565.0,213.8 577.5,202.5 590.0,190.0 602.5,178.8 612.5,171.2 619.0,165.0 630.0,152.5 637.5,148.8 645.0,142.5 655.0,136.2 667.5,130.0 680.0,123.8 695.0,117.5 705.0,113.8 717.5,110.0 730.0,107.5 742.5,105.0 755.0,101.8 765.0,101.2 772.5,102.0 780.0,101.2 792.5,105.0 805.0,107.0 817.5,108.0 827.5,109.5"/>
<polyline class="c" fill="none" stroke="#00f" stroke-width="1" points="0.0,387.5 10.0,393.8 16.0,401.2 22.5,403.8 29.0,408.8 37.5,410.0 45.0,413.0 50.0,412.0 65.0,418.2 72.5,418.2 80.0,420.5 91.0,425.0 100.0,425.0 110.0,423.8 122.5,422.5 135.0,423.0 141.0,420.5 145.0,422.0 152.5,419.5 162.5,418.8 170.0,416.2 180.0,416.2 187.5,417.5 197.5,422.5 210.0,422.5 220.0,419.5 226.0,420.5 234.0,417.0 240.0,418.2 247.5,418.2 260.0,416.2 271.0,411.2 282.5,410.8 294.0,405.0 301.0,406.8 310.0,405.8 320.0,404.2 332.5,402.5 340.0,403.2 346.0,402.5 355.0,404.5 365.0,405.5 375.0,404.5 387.5,403.0 400.0,400.5 410.0,398.8 420.0,396.0 430.0,394.2 442.5,393.8 452.5,391.2 460.0,386.8 470.0,385.0 482.5,380.5 492.5,376.8 505.0,369.2 515.0,363.8 527.5,358.5 535.0,356.8 541.0,351.0 555.0,346.2 567.5,338.0 577.5,330.5 590.0,324.2 600.0,319.2 610.0,313.0 620.0,309.2 628.8,301.8 634.0,297.0 640.0,293.2 652.5,282.0 665.0,277.5 680.0,271.2 691.0,266.2 697.5,267.0 705.0,265.0 715.0,256.2 730.0,245.0 740.0,236.2 755.0,222.5 765.0,213.8 780.0,206.2 792.5,196.2 805.0,187.5 817.5,178.8 827.5,173.2"/>
<polyline class="c" fill="none" stroke="#000" stroke-width="1" points="0.0,304.2 10.0,308.0 20.0,313.0 32.5,318.0 50.0,322.5 65.0,326.8 82.5,331.0 90.0,332.0 100.0,332.0 112.5,331.2 130.0,328.8 145.0,325.0 160.0,321.8 175.0,320.0 190.0,322.5 200.0,326.8 210.0,330.0 225.0,331.0 240.0,331.8 255.0,333.0 270.0,331.8 285.0,330.5 300.0,331.0 315.0,331.8 325.0,330.5 337.5,330.5 345.0,333.0 355.0,335.5 365.0,338.0 375.0,339.2 390.0,339.2 405.0,338.0 420.0,336.0 432.5,335.0 442.5,334.2 452.5,329.2 465.0,323.0 477.5,315.5 490.0,310.0 502.5,303.0 515.0,296.0 521.0,293.2 545.0,281.2 560.0,272.5 575.0,261.2 590.0,246.2 605.0,235.0 620.0,223.8 630.5,215.0 640.0,207.5 652.5,197.5 665.0,191.2 680.0,185.8 695.0,181.2 702.5,178.8 710.0,173.8 720.0,170.0 731.0,165.0 740.0,161.2 752.5,153.8 765.0,149.5 780.0,147.0 792.5,143.8 805.0,140.5 817.5,138.0 827.5,136.2"/>
<line class="c" x1="61.5" y1="375.5" x2="640" y2="126.5" stroke="#f00" stroke-width="1"/>
<line class="c" x1="61.5" y1="375.5" x2="81" y2="371.5" stroke="#00f" stroke-width="1"/>
<line class="c" x1="704" y1="123.5" x2="724" y2="128.5" stroke="#00f" stroke-width="1"/>
<text x="685.5" y="500.5" font-size="30" fill="#f00" font-weight="300" style="font-family:'Liberation Serif','Noto Serif CJK SC',serif" transform="translate(685.5 500.5) skewX(-6) translate(-685.5 -500.5)" textLength="24.5" lengthAdjust="spacingAndGlyphs">赢</text><text x="717.2" y="500.5" font-size="30" fill="#f00" font-weight="300" style="font-family:'Liberation Serif','Noto Serif CJK SC',serif" transform="translate(717.2 500.5) skewX(-6) translate(-717.2 -500.5)" textLength="24.5" lengthAdjust="spacingAndGlyphs">家</text><text x="748.9" y="500.5" font-size="30" fill="#f00" font-weight="300" style="font-family:'Liberation Serif','Noto Serif CJK SC',serif" transform="translate(748.9 500.5) skewX(-6) translate(-748.9 -500.5)" textLength="24.5" lengthAdjust="spacingAndGlyphs">财</text><text x="780.6" y="500.5" font-size="30" fill="#f00" font-weight="300" style="font-family:'Liberation Serif','Noto Serif CJK SC',serif" transform="translate(780.6 500.5) skewX(-6) translate(-780.6 -500.5)" textLength="24.5" lengthAdjust="spacingAndGlyphs">富</text><text x="812.3" y="500.5" font-size="30" fill="#f00" font-weight="300" style="font-family:'Liberation Serif','Noto Serif CJK SC',serif" transform="translate(812.3 500.5) skewX(-6) translate(-812.3 -500.5)" textLength="24.5" lengthAdjust="spacingAndGlyphs">网</text>
</svg>
</body></html>
